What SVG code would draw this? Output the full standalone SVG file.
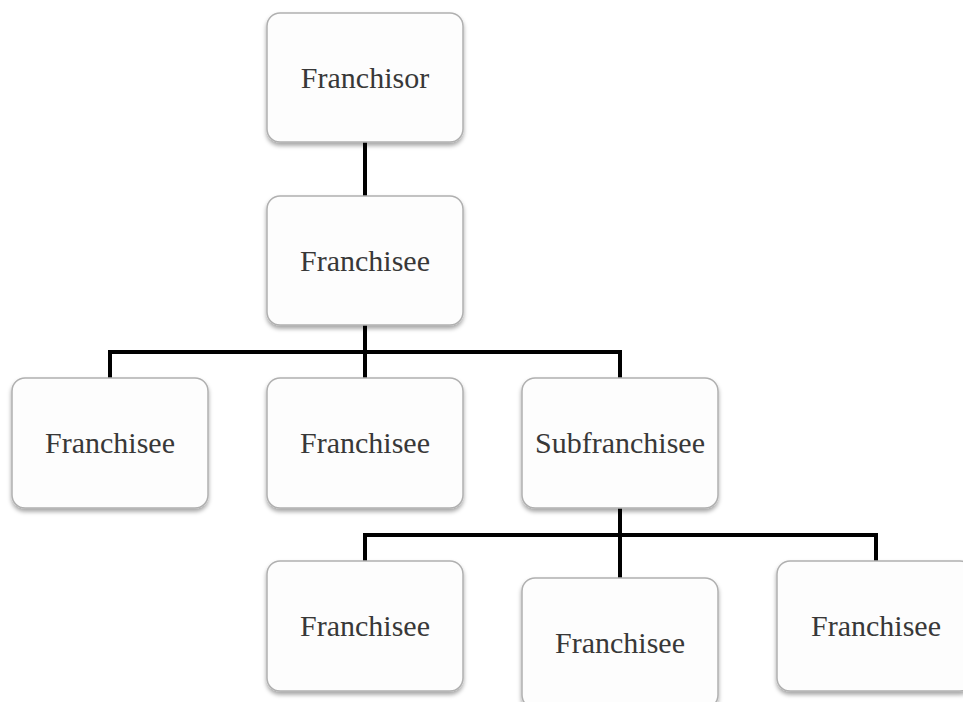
<svg xmlns="http://www.w3.org/2000/svg" width="963" height="702" viewBox="0 0 963 702">
<defs>
<filter id="sh" x="-10%" y="-10%" width="120%" height="125%">
<feDropShadow dx="0" dy="3" stdDeviation="2" flood-color="#000" flood-opacity="0.35"/>
</filter>
<style>
.box{fill:#fdfdfd;stroke:#b0b0b0;stroke-width:1.5;filter:url(#sh)}
.lbl{font-family:"Liberation Serif","Times New Roman",serif;font-size:30px;fill:#383838;text-anchor:middle}
.con{fill:none;stroke:#000;stroke-width:4}
</style>
</defs>
<rect width="963" height="702" fill="#fff"/>
<g id="connectors">
<path class="con" d="M365 142V196"/>
<path class="con" d="M365 325V378M110 378V352H620V378"/>
<path class="con" d="M620 508V578M365 561V535H876V561"/>
</g>
<g id="franchisor"><rect class="box" x="267" y="13" width="196" height="129" rx="13"/><text class="lbl" x="365" y="88">Franchisor</text></g>
<g id="franchisee-main"><rect class="box" x="267" y="196" width="196" height="129" rx="13"/><text class="lbl" x="365" y="271">Franchisee</text></g>
<g id="franchisee-l3a"><rect class="box" x="12" y="378" width="196" height="130" rx="13"/><text class="lbl" x="110" y="453">Franchisee</text></g>
<g id="franchisee-l3b"><rect class="box" x="267" y="378" width="196" height="130" rx="13"/><text class="lbl" x="365" y="453">Franchisee</text></g>
<g id="subfranchisee"><rect class="box" x="522" y="378" width="196" height="130" rx="13"/><text class="lbl" x="620" y="453">Subfranchisee</text></g>
<g id="franchisee-l4a"><rect class="box" x="267" y="561" width="196" height="130" rx="13"/><text class="lbl" x="365" y="636">Franchisee</text></g>
<g id="franchisee-l4b"><rect class="box" x="522" y="578" width="196" height="130" rx="13"/><text class="lbl" x="620" y="653">Franchisee</text></g>
<g id="franchisee-l4c"><rect class="box" x="777" y="561" width="196" height="130" rx="13"/><text class="lbl" x="876" y="636">Franchisee</text></g>
</svg>
